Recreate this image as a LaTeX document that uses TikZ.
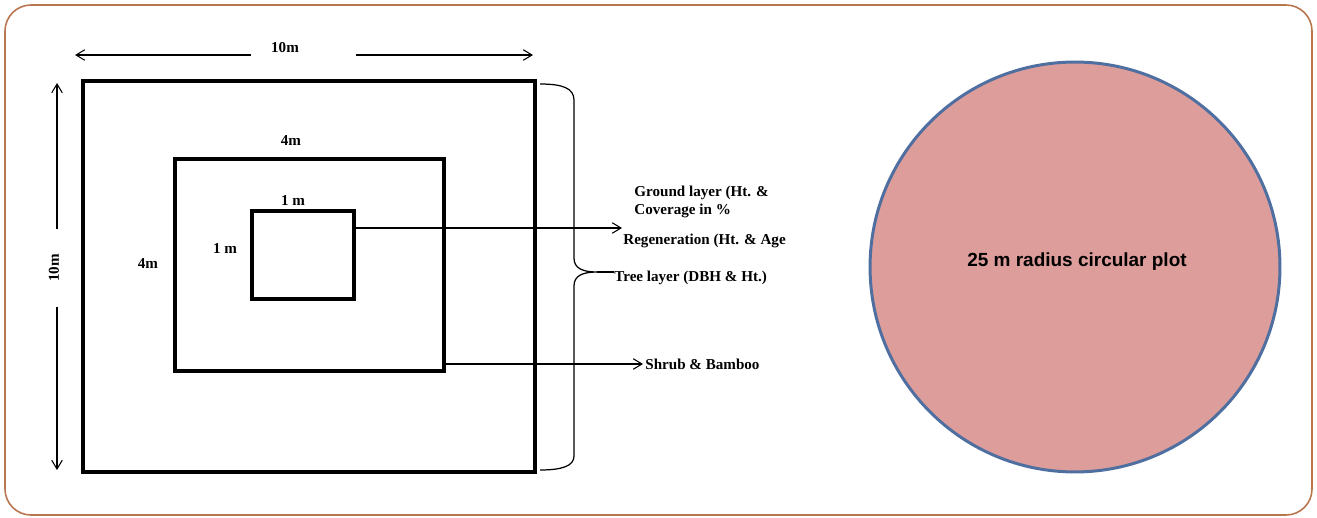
\documentclass[tikz,border=0pt]{standalone}
\usepackage{fontspec}
\setmainfont{Liberation Serif}
\setsansfont{Liberation Sans}
\usetikzlibrary{arrows.meta, positioning, calc}
\definecolor{framebrown}{RGB}{184, 118, 78}
\definecolor{plotpink}{RGB}{220, 157, 155}
\definecolor{plotblue}{RGB}{79, 111, 160}

\begin{document}
\begin{tikzpicture}[
    x=0.02cm, y=-0.02cm,
    frame/.style={draw=framebrown, line width=0.9pt, rounded corners=0.52cm},
    plotsq/.style={draw, line width=2pt, inner sep=0pt},
    lbl/.style={font=\fontsize{8.6pt}{10.2pt}\selectfont\bfseries, inner sep=0pt, align=left},
    arrow/.style={-{Straight Barb[length=5pt, width=6pt]}, line width=0.6pt},
    brace/.style={line width=0.7pt}
]
    \useasboundingbox (0,0) rectangle (1317,517);
    \draw[frame] (5,5) rectangle (1312,515);

    % --- Nested plots ---
    \node[plotsq, minimum width=9.04cm, minimum height=7.82cm] (outer) at (309,276.5) {};
    \node[plotsq, line width=1.8pt, minimum width=5.38cm, minimum height=4.24cm] (middle) at (309.5,265) {};
    \node[plotsq, line width=1.8pt, minimum width=2.04cm, minimum height=1.76cm] (inner) at (303,255) {};

    \node[lbl] (midtop) at (291,141) {4m};
    \node[lbl] (midleft) at (148,264) {4m};
    \node[lbl] (intop) at (293,201) {1 m};
    \node[lbl] (inleft) at (225,249) {1 m};

    % --- Dimensions of the outer plot ---
    \coordinate (tl) at (75,55);
    \coordinate (tr) at (533,55);
    \node[lbl] (topdim) at (285,48) {10m};
    \draw[arrow] (topdim.west |- tl) ++(-20,0) -- (tl);
    \draw[arrow] (topdim.east |- tr) ++(57,0) -- (tr);

    \coordinate (lt) at (57,83);
    \coordinate (lb) at (57,470);
    \node[lbl, inner xsep=14pt, rotate=90] (leftdim) at (54,268) {10m};
    \draw[arrow] (lt |- leftdim.east) -- (lt);
    \draw[arrow] (lb |- leftdim.west) -- (lb);

    % --- Layers ---
    \node[lbl, anchor=west] (ground) at (634,202) {Ground layer (Ht. \&\\Coverage in \%};
    \node[lbl, anchor=west] (regen) at (623,241) {Regeneration (Ht. \& Age};
    \node[lbl, anchor=west] (tree) at (614,278) {Tree layer (DBH \& Ht.)};
    \node[lbl, anchor=west] (shrub) at (645,364) {Shrub \& Bamboo};

    \coordinate (regtip) at (622,228);
    \coordinate (shrubtip) at (643,364);
    \draw[arrow] (inner.east |- regtip) -- (regtip);
    \draw[arrow] (middle.east |- shrubtip) -- (shrubtip);

    % brace round the outer plot
    \coordinate (bracetop) at (540,84);
    \coordinate (bracebot) at (540,470);
    \coordinate (bracetip) at (597,272);
    \draw[brace] (bracetop) .. controls (562,84) and (574,88) .. (574,100) -- (574,258)
        .. controls (574,268) and (582,272) .. (bracetip)
        .. controls (582,272) and (574,276) .. (574,286) -- (574,456)
        .. controls (574,466) and (562,470) .. (bracebot);
    \draw[brace] (bracetip) -- (bracetip -| tree.west);

    % --- Circular plot ---
    \node[circle, draw=plotblue, fill=plotpink, line width=1.7pt, minimum size=8.2cm] (circplot) at (1075,267) {};
    \node[font=\sffamily\bfseries\fontsize{10.8pt}{13pt}\selectfont, inner sep=0pt] (circlabel) at (1077,262) {25 m radius circular plot};

\end{tikzpicture}
\end{document}
